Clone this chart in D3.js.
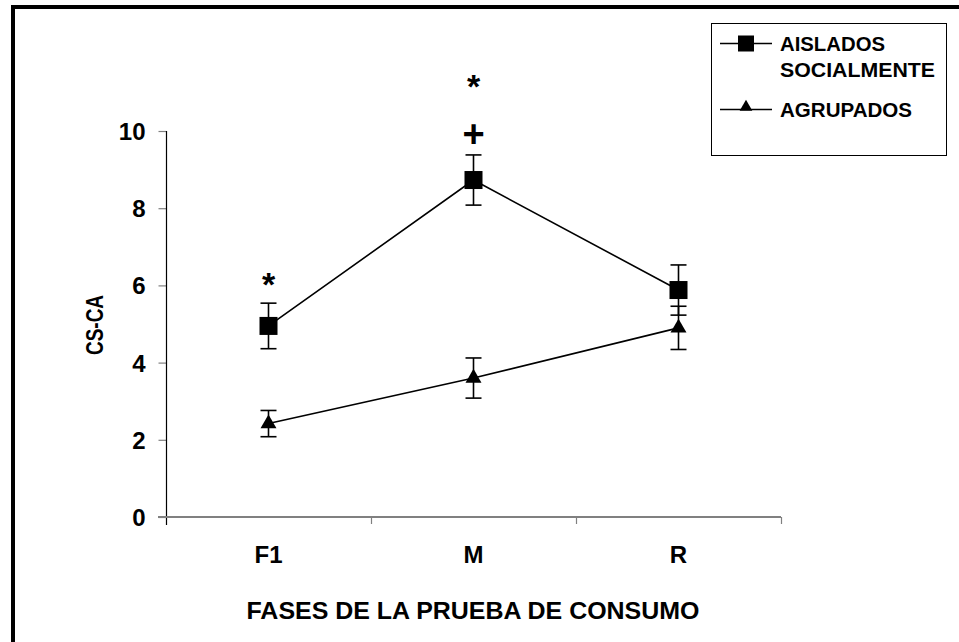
<!DOCTYPE html>
<html><head><meta charset="utf-8">
<script src="https://cdn.jsdelivr.net/npm/d3@7/dist/d3.min.js"></script>
<style>body{margin:0;background:#fff}svg{display:block}text{font-family:"Liberation Sans",Arial,sans-serif;fill:#000}</style>
</head><body><svg id="c" width="959" height="642"></svg>
<script>
const categories = ["F1", "M", "R"];
const aislados = [4.95, 8.73, 5.88];
const aisladosErr = [0.59, 0.65, 0.65];
const agrupados = [2.42, 3.6, 4.9];
const agrupadosErr = [0.34, 0.52, 0.56];
const yTicks = [0, 2, 4, 6, 8, 10];
const seriesNames = ["AISLADOS SOCIALMENTE", "AGRUPADOS"];
const annotations = [{cat: "F1", value: 6.18, text: "*"}, {cat: "M", value: 11.33, text: "*"}, {cat: "M", value: 9.94, text: "+"}];

const svg = d3.select("#c");
svg.append("rect").attr("width", 959).attr("height", 642).attr("fill", "#fff");
svg.append("path").attr("d", "M13,642V7H959").attr("fill", "none").attr("stroke", "#000").attr("stroke-width", 4);

const y = d3.scaleLinear().domain([0, 10]).range([517, 131]);
const x = d3.scaleBand().domain(categories).range([166, 781]);
const cx = c => x(c) + x.bandwidth() / 2;

// y axis
const yAxis = svg.append("g").attr("transform", "translate(166.5,0)")
  .call(d3.axisLeft(y).tickValues(yTicks).tickSize(8).tickPadding(13).tickFormat(d3.format("d")));
yAxis.select(".domain").remove();
yAxis.selectAll(".tick line").attr("stroke", "#808080").attr("stroke-width", 1.2);
yAxis.selectAll(".tick text").attr("font-size", 24).attr("font-weight", "bold").attr("font-family", "Liberation Sans, Arial, sans-serif").attr("dy", "0.35em");
svg.append("line").attr("x1", 166.5).attr("x2", 166.5).attr("y1", y(10)).attr("y2", 525).attr("stroke", "#000").attr("stroke-width", 1.2);

// x axis
svg.append("line").attr("x1", 158).attr("x2", 781).attr("y1", 517).attr("y2", 517).attr("stroke", "#808080").attr("stroke-width", 2);
const bounds = categories.map(c => x(c)).concat([x.range()[1]]).slice(1);
svg.selectAll(".xt").data(bounds).join("line").attr("x1", d => d + 0.5).attr("x2", d => d + 0.5).attr("y1", 517).attr("y2", 524).attr("stroke", "#808080").attr("stroke-width", 1.2);
svg.selectAll(".xl").data(categories).join("text").attr("x", cx).attr("y", 563).attr("text-anchor", "middle").attr("font-size", 24).attr("font-weight", "bold").text(d => d);

// titles
svg.append("text").attr("x", 473).attr("y", 619).attr("text-anchor", "middle").attr("font-size", 24).attr("font-weight", "bold").attr("textLength", 453).attr("lengthAdjust", "spacingAndGlyphs").text("FASES DE LA PRUEBA DE CONSUMO");
svg.append("text").attr("transform", "translate(103,325) rotate(-90)").attr("text-anchor", "middle").attr("font-size", 24).attr("font-weight", "bold").attr("textLength", 60).attr("lengthAdjust", "spacingAndGlyphs").text("CS-CA");

function drawSeries(vals, errs, shape) {
  const g = svg.append("g");
  const pts = categories.map((c, i) => ({c, v: vals[i], e: errs[i]}));
  g.append("path").attr("d", d3.line().x(d => cx(d.c)).y(d => y(d.v))(pts)).attr("fill", "none").attr("stroke", "#000").attr("stroke-width", 1.6);
  pts.forEach(p => {
    const X = cx(p.c);
    g.append("line").attr("x1", X).attr("x2", X).attr("y1", y(p.v + p.e)).attr("y2", y(p.v - p.e)).attr("stroke", "#000").attr("stroke-width", 1.6);
    [p.v + p.e, p.v - p.e].forEach(v => g.append("line").attr("x1", X - 8).attr("x2", X + 8).attr("y1", y(v)).attr("y2", y(v)).attr("stroke", "#000").attr("stroke-width", 1.6));
    if (shape === "square") g.append("rect").attr("x", X - 9).attr("y", y(p.v) - 9).attr("width", 18).attr("height", 18).attr("fill", "#000");
    else g.append("path").attr("d", d3.symbol(d3.symbolTriangle, 110)()).attr("transform", `translate(${X},${y(p.v)})`).attr("fill", "#000");
  });
}
drawSeries(aislados, aisladosErr, "square");
drawSeries(agrupados, agrupadosErr, "triangle");

annotations.forEach(a => {
  svg.append("text").attr("x", cx(a.cat)).attr("y", y(a.value) + (a.text === "*" ? 18 : 14)).attr("text-anchor", "middle").attr("font-size", a.text === "*" ? 34 : 38).attr("font-weight", "bold").text(a.text);
});

// legend
const lg = svg.append("g");
lg.append("rect").attr("x", 711.5).attr("y", 23.5).attr("width", 235).attr("height", 132).attr("fill", "#fff").attr("stroke", "#000").attr("stroke-width", 1);
lg.append("line").attr("x1", 720).attr("x2", 772).attr("y1", 43.5).attr("y2", 43.5).attr("stroke", "#000").attr("stroke-width", 1.5);
lg.append("rect").attr("x", 738).attr("y", 35.5).attr("width", 16).attr("height", 16).attr("fill", "#000");
lg.append("line").attr("x1", 720).attr("x2", 772).attr("y1", 109.5).attr("y2", 109.5).attr("stroke", "#000").attr("stroke-width", 1.5);
lg.append("path").attr("d", d3.symbol(d3.symbolTriangle, 70)()).attr("transform", "translate(746,107)").attr("fill", "#000");
const lt = [{t: "AISLADOS", y: 51, w: 105}, {t: "SOCIALMENTE", y: 77, w: 155}, {t: "AGRUPADOS", y: 117, w: 132}];
lt.forEach(d => lg.append("text").attr("x", 780).attr("y", d.y).attr("font-size", 20).attr("font-weight", "bold").attr("textLength", d.w).attr("lengthAdjust", "spacingAndGlyphs").text(d.t));
</script></body></html>
